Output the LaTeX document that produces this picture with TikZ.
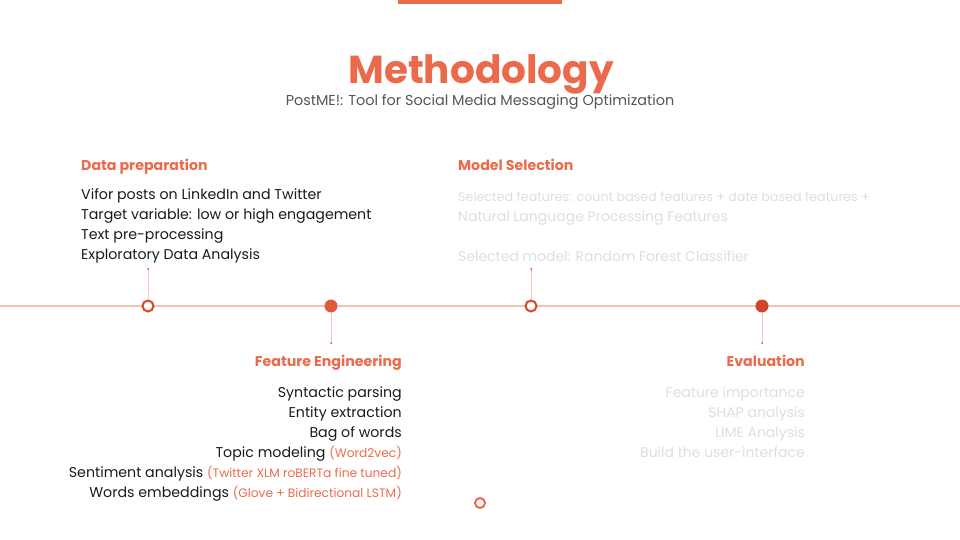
\documentclass[tikz,border=0pt]{standalone}
\usepackage{fontspec}
\setmainfont{Poppins}
\definecolor{accent}{HTML}{EC6A4C}
\definecolor{dotred}{HTML}{D9482B}
\definecolor{dotfill}{HTML}{E05A3E}
\definecolor{dotdark}{HTML}{D0442A}
\definecolor{lineor}{HTML}{F8C2B4}
\definecolor{subgray}{HTML}{555555}
\definecolor{txt}{HTML}{1A1A1A}
\definecolor{faint}{HTML}{DEDEDE}
\newcommand{\notetext}[1]{{\fontsize{12.2}{14}\selectfont\color{accent}#1}}
\begin{document}
\begin{tikzpicture}[x=1pt,y=-1pt,
  head/.style={font=\fontsize{14.2}{16}\selectfont\bfseries, text=accent, inner sep=0pt},
  item/.style={font=\fontsize{14.2}{16}\selectfont, text=txt, inner sep=0pt},
  fitem/.style={font=\fontsize{14}{16}\selectfont, text=faint, inner sep=0pt},
  opendot/.style={circle, draw=dotred, line width=2pt, fill=white, minimum size=11pt, inner sep=0pt},
  filldot/.style={circle, fill=#1, minimum size=13pt, inner sep=0pt},
  stem/.style={draw=lineor, line width=0.9pt},
  endpt/.style={circle, fill=dotred, minimum size=2pt, inner sep=0pt}]
\useasboundingbox (0,0) rectangle (960,540);
\fill[accent] (398,0) rectangle (562,4);
\node[font=\fontsize{39}{42}\selectfont\bfseries, text=accent, anchor=base, inner sep=0pt] (title) at (481,84) {Methodology};
\node[font=\fontsize{14.4}{16}\selectfont, text=subgray, anchor=base, inner sep=0pt] (sub) at (480,106) {PostME!: Tool for Social Media Messaging Optimization};
% timeline
\coordinate (L) at (0,306);
\coordinate (R) at (960,306);
\draw[draw=lineor, line width=1.3pt] (L) -- (R);
% stems
\coordinate (t1) at (148,269);
\coordinate (t2) at (331,343);
\coordinate (t3) at (531,269);
\coordinate (t4) at (762,343);
\node[opendot] (d1) at (148,306) {};
\node[filldot=dotfill] (d2) at (331,306) {};
\node[opendot] (d3) at (531,306) {};
\node[filldot=dotdark] (d4) at (762,306) {};
\draw[stem] (d1) -- (t1);
\draw[stem] (d2) -- (t2);
\draw[stem] (d3) -- (t3);
\draw[stem] (d4) -- (t4);
\node[endpt] (e1) at (t1) {};
\node[endpt] (e2) at (t2) {};
\node[endpt] (e3) at (t3) {};
\node[endpt] (e4) at (t4) {};
\node[circle, draw=accent, line width=2pt, minimum size=10pt, inner sep=0pt] (small) at (480,503) {};
% Data preparation
\node[head, anchor=base west] (h1) at (81,171) {Data preparation};
\node[item, anchor=base west] (a1) at (81,199) {Vifor posts on LinkedIn and Twitter};
\node[item, anchor=base west] (a2) at (81,219) {Target variable: low or high engagement};
\node[item, anchor=base west] (a3) at (81,239) {Text pre-processing};
\node[item, anchor=base west] (a4) at (81,259) {Exploratory Data Analysis};
% Model selection
\node[head, anchor=base west] (h3) at (458,171) {Model Selection};
\node[fitem, anchor=base west, font=\fontsize{12.7}{16}\selectfont] (c1) at (458,201) {Selected features: count based features + date based features +};
\node[fitem, anchor=base west] (c2) at (458,221) {Natural Language Processing Features};
\node[fitem, anchor=base west] (c3) at (458,261) {Selected model: Random Forest Classifier};
% Feature engineering
\node[head, anchor=base east] (h2) at (402,366) {Feature Engineering};
\node[item, anchor=base east] (b1) at (402,397) {Syntactic parsing};
\node[item, anchor=base east] (b2) at (402,417) {Entity extraction};
\node[item, anchor=base east] (b3) at (402,437) {Bag of words};
\node[item, anchor=base east] (b4) at (402,457) {Topic modeling \notetext{(Word2vec)}};
\node[item, anchor=base east] (b5) at (402,477) {Sentiment analysis \notetext{(Twitter XLM roBERTa fine tuned)}};
\node[item, anchor=base east] (b6) at (402,497) {Words embeddings \notetext{(Glove + Bidirectional LSTM)}};
% Evaluation
\node[head, anchor=base east] (h4) at (805,366) {Evaluation};
\node[fitem, anchor=base east] (f1) at (805,397) {Feature importance};
\node[fitem, anchor=base east] (f2) at (805,417) {SHAP analysis};
\node[fitem, anchor=base east] (f3) at (805,437) {LIME Analysis};
\node[fitem, anchor=base east] (f4) at (805,457) {Build the user-interface};
\end{tikzpicture}
\end{document}
